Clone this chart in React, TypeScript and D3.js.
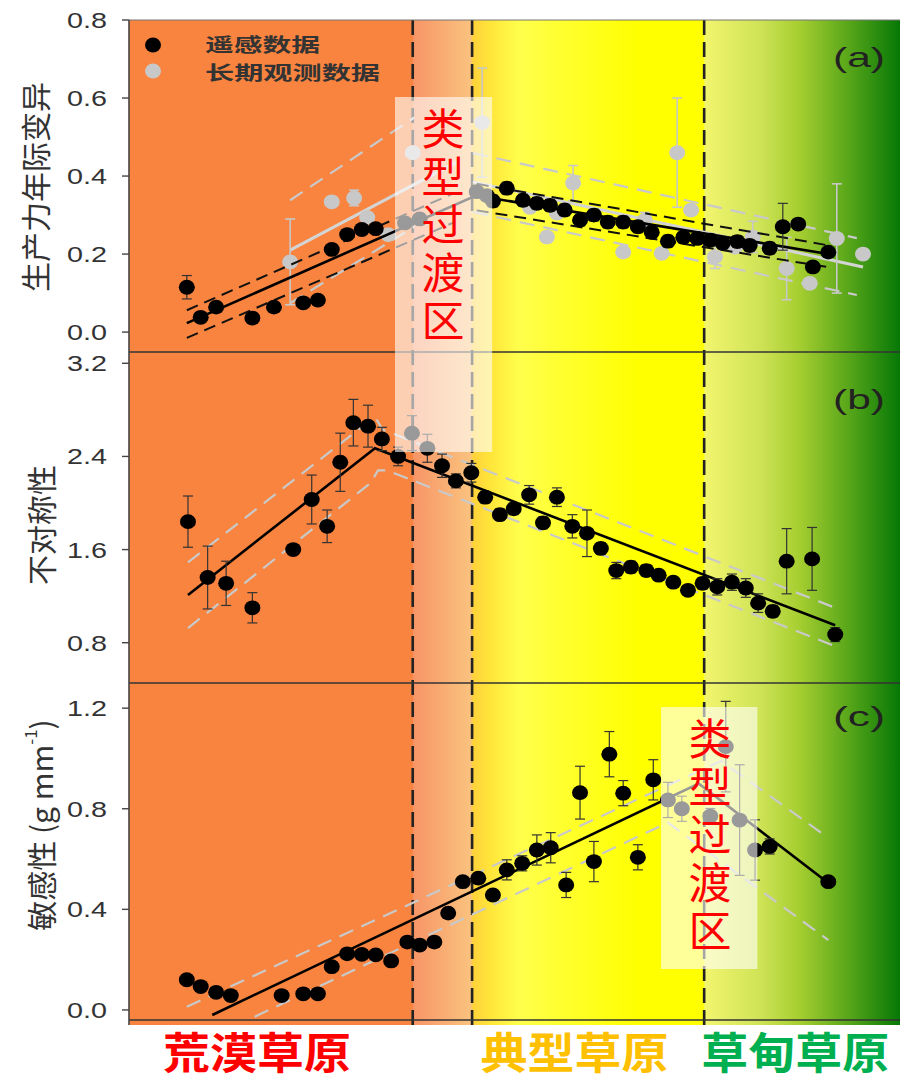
import React from "react";
import * as d3 from "d3";

// ---------------- data ----------------
// x: relative position along the grassland gradient (0-100), y: value, e: error
const boundaries = [36.8, 44.5, 74.6];
const regionLabels = ["荒漠草原", "典型草原", "草甸草原"];
const regionColors = ["#FF0000", "#FFC000", "#00B050"];
const regionCenters = [16.6, 57.8, 86.4];
const legendLabels = ["遥感数据", "长期观测数据"];
const panelLetters = ["(a)", "(b)", "(c)"];
const transitionText = "类型过渡区";

const ticksA = [0, 0.2, 0.4, 0.6, 0.8];
const ticksB = [0.8, 1.6, 2.4, 3.2];
const ticksC = [0, 0.4, 0.8, 1.2];

// panel (a) remote-sensing data [x, y, err]
const remoteA = [
  [7.5, 0.115, 0.03], [9.3, 0.038, 0], [11.3, 0.064, 0], [16.0, 0.036, 0], [18.8, 0.064, 0],
  [22.6, 0.075, 0], [24.5, 0.082, 0], [26.3, 0.212, 0], [28.3, 0.25, 0], [30.2, 0.263, 0],
  [32.0, 0.265, 0], [35.8, 0.28, 0], [37.7, 0.29, 0], [45.1, 0.36, 0], [46.4, 0.35, 0],
  [47.2, 0.336, 0.015], [49.0, 0.369, 0.015], [51.1, 0.338, 0.015], [52.9, 0.33, 0.015],
  [54.6, 0.325, 0.015], [56.5, 0.313, 0.015], [58.5, 0.287, 0.015], [60.3, 0.30, 0.015],
  [62.1, 0.282, 0.015], [64.1, 0.282, 0.015], [66.0, 0.27, 0.015], [67.8, 0.256, 0.015],
  [69.9, 0.233, 0.015], [71.9, 0.243, 0.015], [73.7, 0.24, 0.015], [75.4, 0.236, 0.015],
  [77.0, 0.228, 0.015], [78.9, 0.232, 0.015], [80.5, 0.222, 0.015], [83.1, 0.215, 0.015],
  [84.8, 0.27, 0.06], [86.8, 0.277, 0], [88.7, 0.167, 0], [90.7, 0.205, 0],
];
// panel (a) long-term observation data [x, y, err]
const obsA = [
  [20.9, 0.18, 0.11], [26.3, 0.334, 0], [29.2, 0.344, 0.02], [30.9, 0.294, 0], [33.6, 0.25, 0],
  [36.8, 0.46, 0], [45.8, 0.537, 0.14], [52.0, 0.32, 0], [54.2, 0.244, 0.01], [55.5, 0.305, 0],
  [57.6, 0.382, 0.045], [64.1, 0.205, 0.01], [66.9, 0.287, 0.02], [69.1, 0.202, 0],
  [71.1, 0.46, 0.14], [72.9, 0.313, 0], [76.0, 0.193, 0.03], [78.6, 0.218, 0],
  [80.9, 0.244, 0.04], [85.3, 0.163, 0.08], [88.3, 0.125, 0], [91.8, 0.24, 0.14], [95.2, 0.2, 0],
];
// fits and confidence bounds, panel (a)
const fitA = [[7.5, 0.023], [45.0, 0.35], [90.7, 0.2]];
const ciA = [
  [[7.5, 0.056], [42.0, 0.355]], [[7.5, -0.015], [42.0, 0.28]],
  [[45.1, 0.38], [90.5, 0.223]], [[45.1, 0.312], [90.5, 0.167]],
];
const fitObsA = [[[20.9, 0.21], [42.9, 0.44]], [[44.6, 0.385], [95.2, 0.167]]];
const ciObsA = [
  [[20.9, 0.338], [37.0, 0.55]], [[20.9, 0.074], [37.0, 0.27]],
  [[44.6, 0.459], [94.4, 0.241]], [[44.6, 0.308], [94.4, 0.095]],
];

// panel (b) asymmetry
const remoteB = [
  [7.65, 1.84, 0.22], [10.2, 1.36, 0.27], [12.6, 1.31, 0.19], [16.0, 1.10, 0.13], [21.3, 1.60, 0],
  [23.7, 2.03, 0.21], [25.7, 1.80, 0.14], [27.4, 2.35, 0.25], [29.1, 2.69, 0.20], [31.0, 2.66, 0.18],
  [32.8, 2.55, 0.1], [34.9, 2.40, 0.08], [36.7, 2.60, 0.15], [38.7, 2.47, 0.12], [40.6, 2.32, 0.1],
  [42.4, 2.19, 0.06], [44.4, 2.26, 0.08], [46.2, 2.05, 0.05], [48.1, 1.90, 0.05], [49.9, 1.95, 0.05],
  [51.9, 2.07, 0.08], [53.7, 1.83, 0.05], [55.5, 2.05, 0.08], [57.5, 1.80, 0.1], [59.4, 1.74, 0.2],
  [61.2, 1.61, 0.05], [63.2, 1.42, 0.07], [65.1, 1.45, 0.05], [67.1, 1.42, 0.05], [68.7, 1.38, 0.04],
  [70.6, 1.32, 0.04], [72.5, 1.25, 0.03], [74.4, 1.31, 0.05], [76.3, 1.28, 0.07], [78.2, 1.32, 0.07],
  [80.0, 1.27, 0.08], [81.6, 1.14, 0.08], [83.5, 1.07, 0.05], [85.3, 1.50, 0.28], [88.6, 1.52, 0.27],
  [91.6, 0.87, 0.06],
];
const fitB = [[7.65, 1.21], [31.9, 2.47], [91.6, 0.95]];
const ciB = [
  [[7.65, 1.49], [31.9, 2.74], [32.9, 2.63], [91.2, 1.11]],
  [[7.65, 0.926], [31.3, 2.17], [32.3, 2.28], [33.5, 2.28], [91.2, 0.78]],
];

// panel (c) sensitivity
const remoteC = [
  [7.5, 0.12, 0], [9.3, 0.093, 0], [11.3, 0.07, 0], [13.2, 0.057, 0], [19.8, 0.057, 0],
  [22.6, 0.064, 0], [24.5, 0.064, 0], [26.3, 0.172, 0], [28.3, 0.223, 0], [30.2, 0.221, 0],
  [32.0, 0.219, 0], [34.0, 0.195, 0], [36.1, 0.27, 0], [37.7, 0.258, 0], [39.6, 0.27, 0],
  [41.4, 0.385, 0], [43.3, 0.51, 0], [45.3, 0.524, 0.02], [47.2, 0.457, 0.02], [49.0, 0.557, 0.04],
  [51.0, 0.583, 0.03], [52.9, 0.636, 0.06], [54.7, 0.645, 0.06], [56.7, 0.497, 0.05],
  [58.5, 0.864, 0.105], [60.3, 0.59, 0.08], [62.3, 1.017, 0.09], [64.1, 0.862, 0.05],
  [66.0, 0.607, 0.05], [68.0, 0.915, 0.08], [69.9, 0.835, 0.07], [71.7, 0.80, 0.05],
  [75.4, 0.771, 0.03], [77.4, 1.047, 0.18], [79.2, 0.755, 0.22], [81.2, 0.636, 0.12],
  [83.1, 0.65, 0.03], [90.7, 0.51, 0.01],
];
const fitC = [[10.8, -0.02], [73.9, 0.9], [90.7, 0.505]];
const ciC = [
  [[7.5, 0.013], [76.8, 0.99], [90.7, 0.684]],
  [[16.3, -0.027], [69.9, 0.745], [90.7, 0.278]],
];

// background colour stops along the gradient
const bgStops: [number, string][] = [
  [0, "#F8843F"], [36.8, "#F8843F"], [36.9, "#F79566"], [44.3, "#FAC27E"], [44.6, "#FFD23A"],
  [47.0, "#FFE63A"], [50.7, "#FFFF4C"], [56.0, "#FFFF30"], [66.3, "#FFFF00"], [74.5, "#FFFF00"],
  [74.7, "#F2F56E"], [81.8, "#CFE356"], [87.0, "#A5CE30"], [93.5, "#56A519"], [100, "#067806"],
];

// ---------------- layout ----------------
const W = 900;
const H = 1082;
const LEFT = 129;
const RIGHT = 900;
const TOP = 20;
const BOTTOM = 1022;
const xs = d3.scaleLinear().domain([0, 100]).range([LEFT, RIGHT]);

const panels = [
  { y: d3.scaleLinear().domain([-0.051, 0.8]).range([352, TOP]), ticks: ticksA, letterY: 67 },
  { y: d3.scaleLinear().domain([0.454, 3.297]).range([683, 352]), ticks: ticksB, letterY: 409 },
  { y: d3.scaleLinear().domain([-0.04, 1.3]).range([1020, 683]), ticks: ticksC, letterY: 726 },
];

const NUM_FONT = "'Liberation Sans', Arial, sans-serif";
const CJK_FONT = "'Noto Sans CJK SC', 'Liberation Sans', sans-serif";

function Points({ data, y, fill, barColor, barWidth }: any) {
  return (
    <g>
      {data.filter((d: number[]) => d[2] > 0).map((d: number[], i: number) => {
        const cx = xs(d[0]);
        const y1 = y(d[1] + d[2]);
        const y2 = y(d[1] - d[2]);
        return (
          <g key={"e" + i} stroke={barColor} strokeWidth={barWidth}>
            <line x1={cx} x2={cx} y1={y1} y2={y2} />
            <line x1={cx - 5} x2={cx + 5} y1={y1} y2={y1} />
            <line x1={cx - 5} x2={cx + 5} y1={y2} y2={y2} />
          </g>
        );
      })}
      {data.map((d: number[], i: number) => (
        <ellipse key={"p" + i} cx={xs(d[0])} cy={y(d[1])} rx={8} ry={7.4} fill={fill} />
      ))}
    </g>
  );
}

function Path({ pts, y, ...rest }: any) {
  const line = d3.line<number[]>().x((d) => xs(d[0])).y((d) => y(d[1]));
  return <path d={line(pts) || ""} fill="none" {...rest} />;
}

export default function App() {
  const [pa, pb, pc] = panels;
  const grayDash = { stroke: "#C9C9C9", strokeWidth: 2.2, strokeDasharray: "15 9" };
  const blackDash = { stroke: "#111", strokeWidth: 2, strokeDasharray: "12 7" };

  return (
    <svg width={W} height={H} style={{ position: "absolute", left: 0, top: 0, display: "block", background: "#fff" }}>
      <defs>
        <linearGradient id="bg" gradientUnits="userSpaceOnUse" x1={LEFT} x2={RIGHT} y1={0} y2={0}>
          {bgStops.map(([v, c], i) => (
            <stop key={i} offset={(xs(v) - LEFT) / (RIGHT - LEFT)} stopColor={c} />
          ))}
        </linearGradient>
      </defs>

      {/* background */}
      <rect x={LEFT} y={TOP} width={RIGHT - LEFT} height={BOTTOM + 3 - TOP} fill="url(#bg)" />

      {/* vertical boundary lines */}
      {boundaries.map((b, i) => (
        <line key={i} x1={xs(b)} x2={xs(b)} y1={TOP} y2={BOTTOM + 3} stroke="#222" strokeWidth={2.6} strokeDasharray="15 7" />
      ))}

      {/* panel (a) */}
      <g>
        {ciObsA.map((s, i) => <Path key={i} pts={s} y={pa.y} {...grayDash} />)}
        {fitObsA.map((s, i) => <Path key={i} pts={s} y={pa.y} stroke="#D4D4D4" strokeWidth={3} />)}
        <Points data={obsA} y={pa.y} fill="#C8C8C8" barColor="#C8C8C8" barWidth={1.6} />
        {ciA.map((s, i) => <Path key={i} pts={s} y={pa.y} {...blackDash} />)}
        <Path pts={fitA} y={pa.y} stroke="#000" strokeWidth={2.6} />
        <Points data={remoteA} y={pa.y} fill="#000" barColor="#333" barWidth={1.2} />
      </g>

      {/* panel (b) */}
      <g>
        {ciB.map((s, i) => <Path key={i} pts={s} y={pb.y} {...grayDash} />)}
        <Path pts={fitB} y={pb.y} stroke="#000" strokeWidth={2.6} />
        <Points data={remoteB} y={pb.y} fill="#000" barColor="#333" barWidth={1.2} />
      </g>

      {/* panel (c) */}
      <g>
        {ciC.map((s, i) => <Path key={i} pts={s} y={pc.y} {...grayDash} />)}
        <Path pts={fitC} y={pc.y} stroke="#000" strokeWidth={2.6} />
        <Points data={remoteC} y={pc.y} fill="#000" barColor="#333" barWidth={1.2} />
      </g>

      {/* panel frames */}
      <line x1={LEFT} x2={RIGHT} y1={TOP} y2={TOP} stroke="#777" strokeWidth={1} />
      <line x1={LEFT} x2={RIGHT} y1={352} y2={352} stroke="#333" strokeWidth={1.6} />
      <line x1={LEFT} x2={RIGHT} y1={683} y2={683} stroke="#333" strokeWidth={1.6} />
      <line x1={LEFT} x2={RIGHT} y1={1020} y2={1020} stroke="#333" strokeWidth={1.6} />
      <line x1={LEFT} x2={LEFT} y1={TOP} y2={BOTTOM + 3} stroke="#444" strokeWidth={1.6} />

      {/* axes ticks & labels */}
      {panels.map((p, pi) => (
        <g key={pi}>
          {p.ticks.map((t) => (
            <g key={t}>
              <line x1={LEFT - 7} x2={LEFT} y1={p.y(t)} y2={p.y(t)} stroke="#444" strokeWidth={1.4} />
              <text x={107} y={p.y(t) + 8} textAnchor="end" fontFamily={NUM_FONT} fontSize={22}
                fill="#333" textLength={40} lengthAdjust="spacingAndGlyphs">
                {d3.format(".1f")(t)}
              </text>
            </g>
          ))}
          <text x={885} y={p.letterY} textAnchor="end" fontFamily={NUM_FONT} fontSize={28} fill="#222"
            textLength={52} lengthAdjust="spacingAndGlyphs">
            {panelLetters[pi]}
          </text>
        </g>
      ))}

      {/* y titles */}
      <text transform="translate(34,187) rotate(-90)" textAnchor="middle" dominantBaseline="central"
        fontFamily={CJK_FONT} fontSize={30} fill="#333">生产力年际变异</text>
      <text transform="translate(40,525) rotate(-90)" textAnchor="middle" dominantBaseline="central"
        fontFamily={CJK_FONT} fontSize={30} fill="#333">不对称性</text>
      <text transform="translate(40,825) rotate(-90)" textAnchor="middle" dominantBaseline="central"
        fontFamily={CJK_FONT} fontSize={30} fill="#333">
        敏感性 (g mm<tspan fontSize={17} dy={-11}>-1</tspan><tspan dy={11}>)</tspan>
      </text>

      {/* legend */}
      <ellipse cx={153} cy={45} rx={8} ry={7.4} fill="#000" />
      <ellipse cx={153} cy={71} rx={8} ry={7.4} fill="#C8C8C8" />
      <text x={205} y={52} fontFamily={CJK_FONT} fontSize={19} fontWeight="bold" fill="#333"
        textLength={115} lengthAdjust="spacingAndGlyphs">{legendLabels[0]}</text>
      <text x={205} y={80} fontFamily={CJK_FONT} fontSize={19} fontWeight="bold" fill="#333"
        textLength={175} lengthAdjust="spacingAndGlyphs">{legendLabels[1]}</text>

      {/* transition-zone overlays */}
      <rect x={xs(34.5)} y={97} width={xs(47.1) - xs(34.5)} height={355} fill="#fff" opacity={0.6} />
      <rect x={xs(69.0)} y={707} width={xs(81.5) - xs(69.0)} height={262} fill="#fff" opacity={0.6} />
      <text x={443} y={107} writingMode="vertical-rl" fontFamily={CJK_FONT} fontSize={43}
        letterSpacing={5} fill="#FF0000">{transitionText}</text>
      <text x={710} y={717} writingMode="vertical-rl" fontFamily={CJK_FONT} fontSize={43}
        letterSpacing={5} fill="#FF0000">{transitionText}</text>

      {/* region labels */}
      {regionLabels.map((r, i) => (
        <text key={r} x={xs(regionCenters[i])} y={1069} textAnchor="middle" fontFamily={CJK_FONT}
          fontSize={43} fontWeight="bold" fill={regionColors[i]} textLength={188} lengthAdjust="spacingAndGlyphs">
          {r}
        </text>
      ))}
    </svg>
  );
}
